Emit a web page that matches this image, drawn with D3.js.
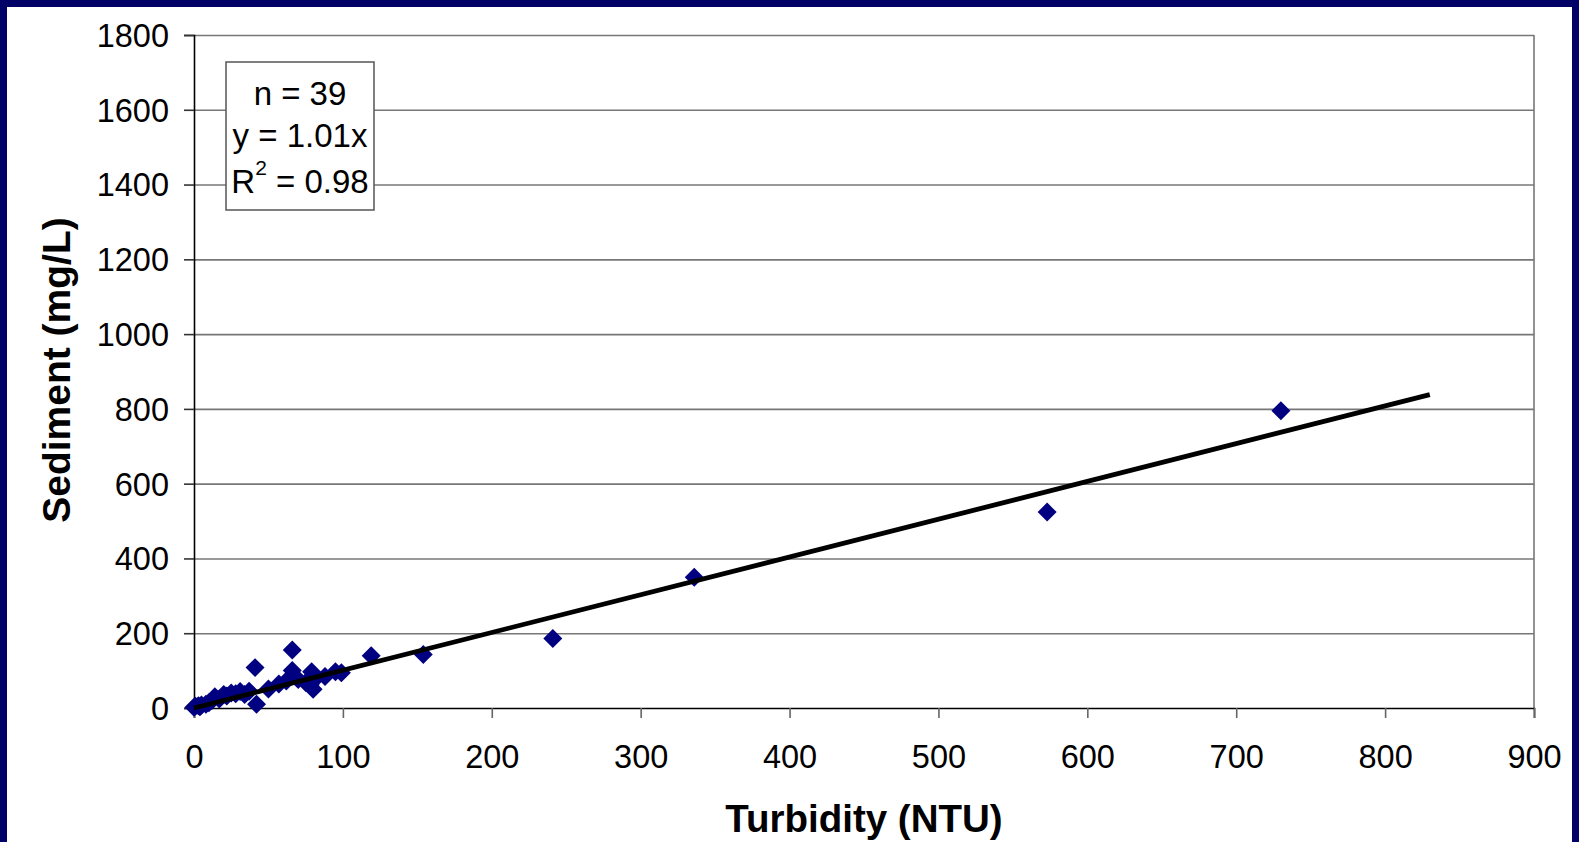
<!DOCTYPE html>
<html>
<head>
<meta charset="utf-8">
<script src="https://cdn.jsdelivr.net/npm/d3@7"></script>
<style>
  html, body { margin: 0; padding: 0; background: #ffffff; }
  svg { display: block; }
  text { font-family: "Liberation Sans", Arial, sans-serif; fill: #000; }
</style>
</head>
<body>
<svg id="chart" width="1579" height="842"></svg>
<script>
// ---- data ----
const turbidity = [0, 1, 3, 4, 5, 8, 10, 12, 14, 17, 20, 22, 25, 28, 31, 34, 37,
  41, 42, 50, 57, 62, 66, 66, 70, 75, 78, 79, 80, 82, 88, 95, 99,
  119, 154, 241, 336, 573, 730];
const sediment = [2, 5, 6, 3, 8, 10, 14, 20, 30, 24, 36, 32, 40, 38, 44, 36, 45,
  108, 10, 51, 64, 72, 100, 155, 76, 68, 62, 97, 50, 80, 84, 97, 94,
  140, 143, 186, 350, 524, 795];
const trendX = [0, 830];
const slope = 1.01;
const xTicks = [0, 100, 200, 300, 400, 500, 600, 700, 800, 900];
const yTicks = [0, 200, 400, 600, 800, 1000, 1200, 1400, 1600, 1800];
const statsLines = ["n = 39", "y = 1.01x", "R² = 0.98"];
const xTitle = "Turbidity (NTU)";
const yTitle = "Sediment (mg/L)";

// ---- layout ----
const W = 1579, H = 842;
const pLeft = 194, pRight = 1534, pTop = 35, pBottom = 708;
const svg = d3.select("#chart");

// navy frame (left, top, right only)
svg.append("rect").attr("x", 0).attr("y", 0).attr("width", W).attr("height", H).attr("fill", "#000066");
svg.append("rect").attr("x", 7).attr("y", 7).attr("width", W - 14).attr("height", H - 7).attr("fill", "#ffffff");

const x = d3.scaleLinear().domain([0, 900]).range([pLeft, pRight]);
const y = d3.scaleLinear().domain([0, 1800]).range([pBottom, pTop]);

// gridlines
const grid = svg.append("g").attr("transform", `translate(${pLeft},0)`)
  .call(d3.axisLeft(y).tickValues(yTicks.slice(1)).tickSize(-(pRight - pLeft)).tickFormat(""));
grid.select(".domain").remove();
grid.selectAll("line").attr("stroke", "#777").attr("stroke-width", 1.6);

// right border
svg.append("line").attr("x1", pRight).attr("x2", pRight).attr("y1", pTop).attr("y2", pBottom)
  .attr("stroke", "#777").attr("stroke-width", 1.6);

// y axis
const yAxis = svg.append("g").attr("transform", `translate(${pLeft},0)`)
  .call(d3.axisLeft(y).tickValues(yTicks).tickSize(10).tickPadding(15).tickFormat(d3.format("d")));
yAxis.select(".domain").attr("stroke", "#000").attr("stroke-width", 1.6);
yAxis.selectAll(".tick line").attr("stroke", "#333").attr("stroke-width", 1.6);
yAxis.selectAll("text").attr("font-size", 32.5).attr("font-family", "Liberation Sans, Arial, sans-serif")
  .attr("fill", "#000").attr("dy", "0.35em");

// x axis
const xAxis = svg.append("g").attr("transform", `translate(0,${pBottom})`)
  .call(d3.axisBottom(x).tickValues(xTicks).tickSize(10).tickFormat(d3.format("d")));
xAxis.select(".domain").attr("stroke", "#000").attr("stroke-width", 1.6);
xAxis.selectAll(".tick line").attr("stroke", "#666").attr("stroke-width", 1.6);
xAxis.selectAll("text").attr("font-size", 32.5).attr("font-family", "Liberation Sans, Arial, sans-serif")
  .attr("fill", "#000").attr("y", 49).attr("dy", "0.35em");

// points
const diamond = {
  draw(ctx, size) {
    const r = Math.sqrt(size / 2);
    ctx.moveTo(0, -r); ctx.lineTo(r, 0); ctx.lineTo(0, r); ctx.lineTo(-r, 0); ctx.closePath();
  }
};
const pts = turbidity.map((t, i) => ({ t, s: sediment[i] }));
svg.append("g").selectAll("path").data(pts).join("path")
  .attr("d", d3.symbol(diamond, 180))
  .attr("transform", d => `translate(${x(d.t)},${y(d.s)})`)
  .attr("fill", "#000080");

// trend line
svg.append("path")
  .datum(trendX.map(v => [v, slope * v]))
  .attr("d", d3.line().x(d => x(d[0])).y(d => y(d[1])))
  .attr("stroke", "#000").attr("stroke-width", 4.8).attr("fill", "none");

// stats box
const bx = 226, by = 62, bw = 148, bh = 148;
svg.append("rect").attr("x", bx).attr("y", by).attr("width", bw).attr("height", bh)
  .attr("fill", "#fff").attr("stroke", "#555").attr("stroke-width", 1.5);
const lineY = [93, 135, 181];
statsLines.forEach((s, i) => {
  const t = svg.append("text").attr("x", bx + bw / 2).attr("y", lineY[i])
    .attr("text-anchor", "middle").attr("dominant-baseline", "central").attr("font-size", 33);
  if (s.startsWith("R²")) {
    t.append("tspan").text("R");
    t.append("tspan").text("2").attr("font-size", 21).attr("dy", -14);
    t.append("tspan").text(s.slice(2)).attr("dy", 14);
  } else {
    t.text(s);
  }
});

// axis titles
svg.append("text").attr("x", 864).attr("y", 818)
  .attr("text-anchor", "middle").attr("dominant-baseline", "central")
  .attr("font-size", 38.5).attr("font-weight", "bold").text(xTitle);
svg.append("text").attr("transform", "translate(56,370) rotate(-90)")
  .attr("text-anchor", "middle").attr("dominant-baseline", "central")
  .attr("font-size", 39).attr("font-weight", "bold").text(yTitle);
</script>
</body>
</html>
